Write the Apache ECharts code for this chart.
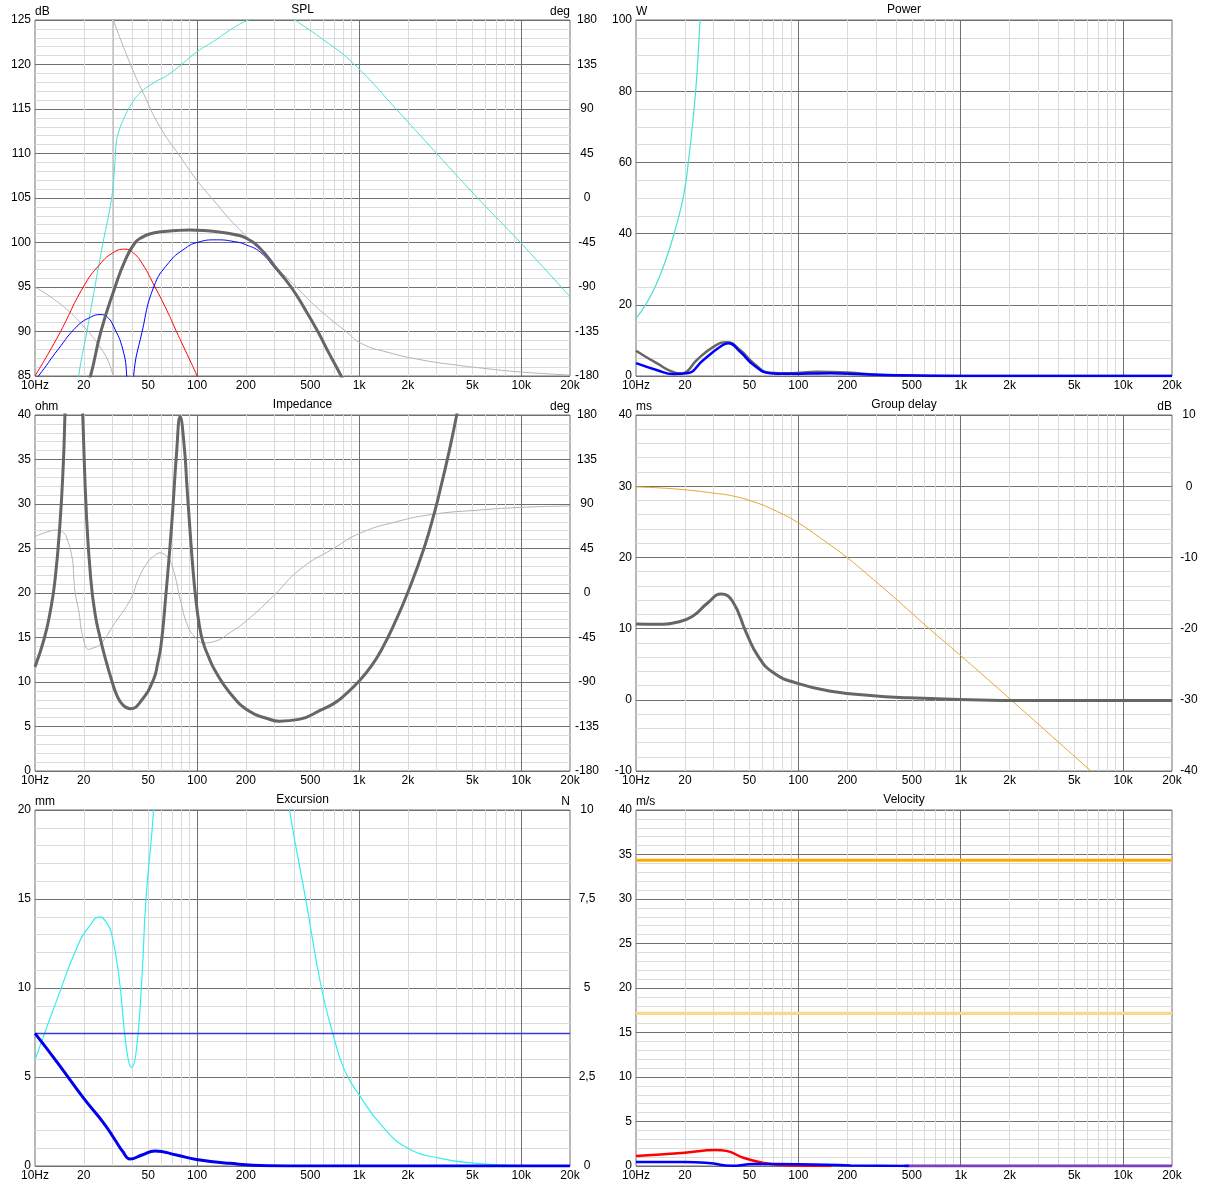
<!DOCTYPE html>
<html><head><meta charset="utf-8">
<script src="https://cdn.jsdelivr.net/npm/echarts@6/dist/echarts.min.js"></script>
<style>html,body{margin:0;padding:0;background:#fff}#c{width:1206px;height:1187px}</style>
</head><body><div id="c"></div><script>
// ---------- axis ticks ----------
const FREQ_LABELS = [10, 20, 50, 100, 200, 500, 1000, 2000, 5000, 10000, 20000];
const FREQ_LABEL_TEXT = ['10Hz', '20', '50', '100', '200', '500', '1k', '2k', '5k', '10k', '20k'];
const MAJOR_FREQS = [100, 1000, 10000];
const MINOR_FREQS = [20, 30, 40, 50, 60, 70, 80, 90, 200, 300, 400, 500, 600, 700, 800, 900,
  2000, 3000, 4000, 5000, 6000, 7000, 8000, 9000];

// ---------- SPL ----------
const splFreqTotal = [18, 22, 25.5, 31.2, 36, 41.5, 46, 51, 60, 75, 90, 110, 140, 170, 200, 246, 305, 380, 460, 556, 650, 774, 900];
const splTotal = [80, 85, 90, 95, 98.0, 100, 100.6, 100.95, 101.2, 101.35, 101.4, 101.35, 101.15, 100.9, 100.5, 99.3, 97.2, 95, 92.6, 90, 87.6, 85, 82.5];
const splFreqDriver = [10, 10.5, 13.9, 18.2, 22, 25.2, 28, 30.5, 34.8, 36.8, 37.8, 38.4, 39.2, 40.6, 45.7, 54, 67, 83, 100, 132, 170, 200, 246, 305, 380, 556, 774, 900];
const splDriver = [84.7, 85, 88, 90.6, 91.6, 91.9, 91.6, 90.6, 88, 85, 79, 65, 79, 85, 89.9, 95, 97.75, 99.25, 100, 100.3, 100.1, 99.75, 98.9, 97.0, 94.9, 89.9, 84.9, 82.4];
const splFreqPort = [10, 13.9, 20, 25, 30, 35.8, 40, 46, 55, 65, 74.6, 87, 100, 110];
const splPort = [85, 89.5, 95.1, 97.5, 98.8, 99.25, 98.9, 97.6, 95, 92.4, 90, 87.4, 85, 83];
const splFreqPhaseLow = [10, 13, 16.3, 19.5, 22.6, 25.5, 28.1, 30.4];
const splPhaseLow = [-90, -102, -115, -128, -140, -152, -164, -180];
const splFreqPhaseWrap = [30.4, 30.4];
const splPhaseWrap = [-180, 180];
const splFreqPhaseHigh = [30.4, 38.6, 46.6, 59, 78.6, 99.6, 126, 160, 200, 224, 300, 409, 560, 830, 1030, 1500, 2480, 4000, 5700, 10000, 20000];
const splPhaseHigh = [180, 136, 106, 72, 42, 18, -2, -22, -38, -46, -68, -90, -112, -135, -147, -156, -164, -169, -172, -176, -179];
const splFreqMax = [15, 18.6, 20.9, 23.4, 26.3, 29.7, 31.0, 31.8, 32.7, 35.1, 39.5, 44.4, 53.6, 68.1, 99.5, 126.4, 167, 202, 250, 300, 350, 401, 432, 600, 924, 1710, 3010, 5320, 10000, 20000];
const splMax = [72, 85, 90, 95, 100, 105, 108.5, 111.3, 112.3, 113.8, 115.6, 116.8, 117.9, 119.0, 121.4, 122.6, 124.1, 124.9, 125.5, 125.7, 125.5, 125, 124.6, 122.8, 120.1, 114.9, 110.0, 105.1, 99.9, 93.9];

// ---------- Power ----------
const pwrFreqMax = [10, 11.6, 13.4, 15.5, 17.4, 19.6, 21.0, 23.3, 24.8, 26];
const pwrMax = [16.2, 20.4, 26.0, 33.5, 41.0, 50.5, 60, 80, 100, 115];
const pwrFreqTotal = [10, 13.4, 17.4, 18.6, 19.6, 23.7, 30, 36.2, 43.8, 53, 67, 89, 130, 200, 320, 500, 1000, 20000];
const pwrTotal = [7.1, 3.6, 0.9, 0.7, 0.8, 4.5, 8.2, 9.5, 7.3, 3.6, 0.9, 0.75, 1.2, 1.0, 0.3, 0.1, 0.02, 0];
const pwrFreqDriver = [10, 13.4, 17, 20.5, 26, 33, 37, 43.8, 53, 67, 80, 120, 157, 250, 400, 1000, 20000];
const pwrDriver = [3.6, 1.7, 0.56, 0.75, 4.5, 8.2, 9.2, 6.8, 3.1, 0.75, 0.6, 0.7, 0.75, 0.5, 0.2, 0.03, 0];

// ---------- Impedance ----------
const impFreq = [10, 11.45, 12.5, 13.3, 14.26, 14.96, 15.3, 16.2, 17.2, 18.4, 19.7, 20.8, 22.1, 23.5, 25.2, 27.2, 29.6, 32, 34.9, 38.8, 45.7, 53.9, 57, 60, 64, 69.8, 74.9, 78.6, 83.4, 86.6, 89.7, 94, 98, 103, 108.7, 118, 128, 159, 209, 274, 322, 425, 587, 700, 811, 1000, 1200, 1400, 1635, 1970, 2510, 2950, 3200, 3600, 4000, 4500];
const impMag = [11.7, 15.0, 18.2, 21.5, 27.8, 34.6, 40, 55, 62, 55, 40, 28.5, 21.5, 17.6, 15.0, 12.6, 10.3, 8.5, 7.4, 7.0, 8.0, 10.3, 12.0, 14.2, 19.5, 27.8, 36.0, 39.8, 36.4, 32.0, 28.0, 23.0, 19.5, 16.5, 14.5, 12.8, 11.4, 8.8, 6.73, 5.87, 5.6, 5.8, 6.9, 7.6, 8.5, 10.1, 11.9, 13.9, 16.4, 19.8, 25.0, 29.4, 32.0, 36.0, 40, 45];
const impPhaseFreq = [10, 12, 13.9, 15.0, 15.6, 16.9, 17.4, 17.7, 18.7, 19.7, 21.5, 22.5, 25.2, 31.2, 38.8, 43.3, 48.9, 54, 59, 64, 67.8, 72.9, 78.8, 87.8, 97.8, 108.7, 128, 160, 202, 296, 432, 697, 1010, 1700, 2870, 5550, 10300, 20000];
const impPhase = [57, 62, 63.7, 61, 57, 36.7, 13.1, 0, -20, -43.8, -57, -56, -52, -30, -6.7, 13.5, 30, 37, 40.5, 38, 33.4, 18, -6.7, -33.7, -45, -50.5, -49, -40, -28, -3, 24, 45.2, 60.4, 72.1, 79.6, 83.9, 86.7, 88];

// ---------- Group delay ----------
const gdFreq = [10, 13.5, 17.8, 22.2, 27.6, 33.5, 39.4, 47.8, 56.6, 70.2, 99, 159, 277, 478, 987, 2490, 20000];
const gdDelay = [10.66, 10.6, 10.9, 11.7, 13.6, 14.86, 13.8, 9.4, 6.1, 3.8, 2.3, 1.2, 0.6, 0.28, 0.05, -0.1, -0.1];
const gdRespFreq = [10, 17.8, 30.8, 40, 53.2, 70.2, 99, 143, 199, 276, 384, 632, 987, 1430, 2037, 3280, 6340, 20000];
const gdResp = [-0.1, -0.4, -1.0, -1.4, -2.2, -3.3, -5.1, -7.6, -10.0, -12.7, -15.5, -19.9, -23.7, -26.9, -30.0, -34.2, -40, -50];

// ---------- Excursion ----------
const excFreq = [10, 13.86, 20, 26.6, 31.2, 34.9, 38.6, 45.7, 55, 74.5, 99, 159, 274, 500, 20000];
const excDisp = [7.45, 5.77, 3.8, 2.4, 1.46, 0.8, 0.39, 0.62, 0.84, 0.62, 0.37, 0.15, 0.02, 0, 0];
const excLimitFreq = [10, 20000];
const excLimit = [7.45, 7.45];
const excFreqCone = [10, 13.86, 18.2, 21.4, 25.2, 27.5, 29.6, 33.0, 36.8, 39.5, 42.2, 45.7, 48.3, 53.9, 58, 100, 200, 300, 372, 470, 585, 688, 811, 1000, 1400, 2000, 3170, 5200, 10000, 20000];
const excCone = [5.96, 9.5, 12.3, 13.4, 14.0, 13.7, 13.1, 10.6, 6.5, 5.54, 6.5, 10.6, 14.9, 20, 26, 60, 45, 26, 20, 14.9, 10.0, 7.45, 5.4, 4.0, 2.2, 1.0, 0.43, 0.15, 0.02, 0];

// ---------- Velocity ----------
const velLimitFreq = [10, 20000];
const velLimitHigh = [34.35, 34.35];
const velLimitLow = [17.15, 17.15];
const velFreqRed = [10, 20, 31, 36, 45.8, 60, 78, 100, 130, 160];
const velRed = [1.12, 1.5, 1.8, 1.7, 0.93, 0.37, 0.1, 0.05, 0.02, 0];
const velFreqBlue = [10, 20, 29, 38.5, 53, 100, 210, 480];
const velBlue = [0.45, 0.45, 0.3, 0.02, 0.22, 0.19, 0.07, 0];
const velFreqPurple = [450, 20000];
const velPurple = [0, 0];

// ---------- build ----------
const MAJOR = '#707070', MINOR = '#dadada', FONT = '"Liberation Sans", Arial, sans-serif';
const pairs = (f, v) => f.map((x, i) => [x, v[i]]);

const panels = [
  {title: 'SPL', left: 35, top: 20, w: 535,
   yL: {name: 'dB', min: 85, max: 125, interval: 5, minor: 5},
   yR: {name: 'deg', min: -180, max: 180, interval: 45}},
  {title: 'Power', left: 636, top: 20, w: 536,
   yL: {name: 'W', min: 0, max: 100, interval: 20, minor: 4}},
  {title: 'Impedance', left: 35, top: 415, w: 535,
   yL: {name: 'ohm', min: 0, max: 40, interval: 5, minor: 5},
   yR: {name: 'deg', min: -180, max: 180, interval: 45}},
  {title: 'Group delay', left: 636, top: 415, w: 536,
   yL: {name: 'ms', min: -10, max: 40, interval: 10, minor: 5},
   yR: {name: 'dB', min: -40, max: 10, interval: 10}},
  {title: 'Excursion', left: 35, top: 810, w: 535,
   yL: {name: 'mm', min: 0, max: 20, interval: 5, minor: 5},
   yR: {name: 'N', min: 0, max: 10, interval: 2.5, comma: true}},
  {title: 'Velocity', left: 636, top: 810, w: 536,
   yL: {name: 'm/s', min: 0, max: 40, interval: 5, minor: 5}}
];
const H = 356;

const grid = [], xAxis = [], yAxis = [], graphic = [];
const yIndex = [];
panels.forEach((p, i) => {
  grid.push({left: p.left, top: p.top, width: p.w, height: H, show: true,
    borderColor: MAJOR, borderWidth: 1, backgroundColor: 'transparent', containLabel: false});
  xAxis.push({type: 'log', logBase: 10, gridIndex: i, position: 'bottom', min: 10, max: 20000, z: 0,
    axisLine: {show: false}, axisTick: {show: false, customValues: MINOR_FREQS},
    axisLabel: {show: false}, splitLine: {show: true, lineStyle: {color: MINOR, width: 1}}});
  xAxis.push({type: 'log', logBase: 10, gridIndex: i, position: 'bottom', min: 10, max: 20000, z: 1,
    axisLine: {show: false}, axisTick: {show: false, customValues: MAJOR_FREQS},
    axisLabel: {show: true, customValues: FREQ_LABELS, margin: 4, color: '#000', fontSize: 12, fontFamily: FONT,
      formatter: v => { const k = FREQ_LABELS.findIndex(t => Math.abs(t - v) / t < 1e-6); return k >= 0 ? FREQ_LABEL_TEXT[k] : ''; }},
    splitLine: {show: true, lineStyle: {color: MAJOR, width: 1}}});
  const idx = {};
  idx.L = yAxis.length;
  yAxis.push({type: 'value', gridIndex: i, position: 'left', min: p.yL.min, max: p.yL.max, interval: p.yL.interval,
    name: p.yL.name, nameLocation: 'end', nameGap: 2, nameMoveOverlap: false,
    nameTextStyle: {align: 'left', verticalAlign: 'bottom', color: '#000', fontSize: 12, fontFamily: FONT},
    axisLine: {show: false}, axisTick: {show: false},
    axisLabel: {margin: 4, color: '#000', fontSize: 12, fontFamily: FONT},
    splitLine: {show: true, lineStyle: {color: MAJOR, width: 1}},
    minorTick: {show: false, splitNumber: p.yL.minor},
    minorSplitLine: {show: true, lineStyle: {color: MINOR, width: 1}}});
  if (p.yR) {
    idx.R = yAxis.length;
    yAxis.push({type: 'value', gridIndex: i, position: 'right', min: p.yR.min, max: p.yR.max, interval: p.yR.interval,
      name: p.yR.name, nameLocation: 'end', nameGap: 2, nameMoveOverlap: false,
      nameTextStyle: {align: 'right', verticalAlign: 'bottom', color: '#000', fontSize: 12, fontFamily: FONT},
      axisLine: {show: false}, axisTick: {show: false},
      axisLabel: {margin: 17, align: 'center', color: '#000', fontSize: 12, fontFamily: FONT,
        formatter: p.yR.comma ? (v => String(v).replace('.', ',')) : undefined},
      splitLine: {show: false}});
  }
  yIndex.push(idx);
  graphic.push({type: 'text', x: p.left + p.w / 2, y: p.top - 10, silent: true,
    style: {text: p.title, align: 'center', verticalAlign: 'middle', fill: '#000', font: '12px ' + FONT}});
});

function line(panel, axis, f, v, color, width, smooth, z) {
  return {type: 'line', xAxisIndex: panel * 2 + 1, yAxisIndex: yIndex[panel][axis],
    data: pairs(f, v), symbol: 'none', showSymbol: false, clip: true, silent: true,
    smooth: smooth === undefined ? 0.5 : smooth, z: z || 2,
    lineStyle: {color: color, width: width}};
}

const GRAY_THICK = '#666666', GRAY_THIN = '#b4b4b4', TURQ = '#48e0d2';
const series = [
  // SPL
  line(0, 'R', splFreqPhaseLow, splPhaseLow, GRAY_THIN, 1),
  line(0, 'R', splFreqPhaseWrap, splPhaseWrap, GRAY_THIN, 1, false),
  line(0, 'R', splFreqPhaseHigh, splPhaseHigh, GRAY_THIN, 1),
  line(0, 'L', splFreqMax, splMax, TURQ, 1),
  line(0, 'L', splFreqPort, splPort, '#ff0000', 1),
  line(0, 'L', splFreqDriver, splDriver, '#0000ff', 1),
  line(0, 'L', splFreqTotal, splTotal, GRAY_THICK, 3, 0.5, 3),
  // Power
  line(1, 'L', pwrFreqMax, pwrMax, TURQ, 1.2),
  line(1, 'L', pwrFreqTotal, pwrTotal, GRAY_THICK, 2.5),
  line(1, 'L', pwrFreqDriver, pwrDriver, '#0000ff', 2.5, 0.5, 3),
  // Impedance
  line(2, 'R', impPhaseFreq, impPhase, GRAY_THIN, 1),
  line(2, 'L', impFreq, impMag, GRAY_THICK, 3, 0.5, 3),
  // Group delay
  line(3, 'R', gdRespFreq, gdResp, '#e3a72f', 1),
  line(3, 'L', gdFreq, gdDelay, GRAY_THICK, 3, 0.5, 3),
  // Excursion
  line(4, 'L', excFreqCone, excCone, '#33eeee', 1.2),
  line(4, 'L', excLimitFreq, excLimit, '#3a3ad6', 1.5, false),
  line(4, 'L', excFreq, excDisp, '#0000ee', 3, 0.5, 3),
  // Velocity
  line(5, 'L', velLimitFreq, velLimitHigh, '#ffaa00', 3, false),
  line(5, 'L', velLimitFreq, velLimitLow, '#ffd68a', 3, false),
  line(5, 'L', velFreqPurple, velPurple, '#7b3fc0', 3, false),
  line(5, 'L', velFreqRed, velRed, '#ff0000', 2.5),
  line(5, 'L', velFreqBlue, velBlue, '#0000ff', 2.5)
];

const chart = echarts.init(document.getElementById('c'), null, {renderer: 'canvas'});
chart.setOption({
  animation: false,
  backgroundColor: '#ffffff',
  textStyle: {fontFamily: FONT},
  grid, xAxis, yAxis, series, graphic
});
</script></body></html>
